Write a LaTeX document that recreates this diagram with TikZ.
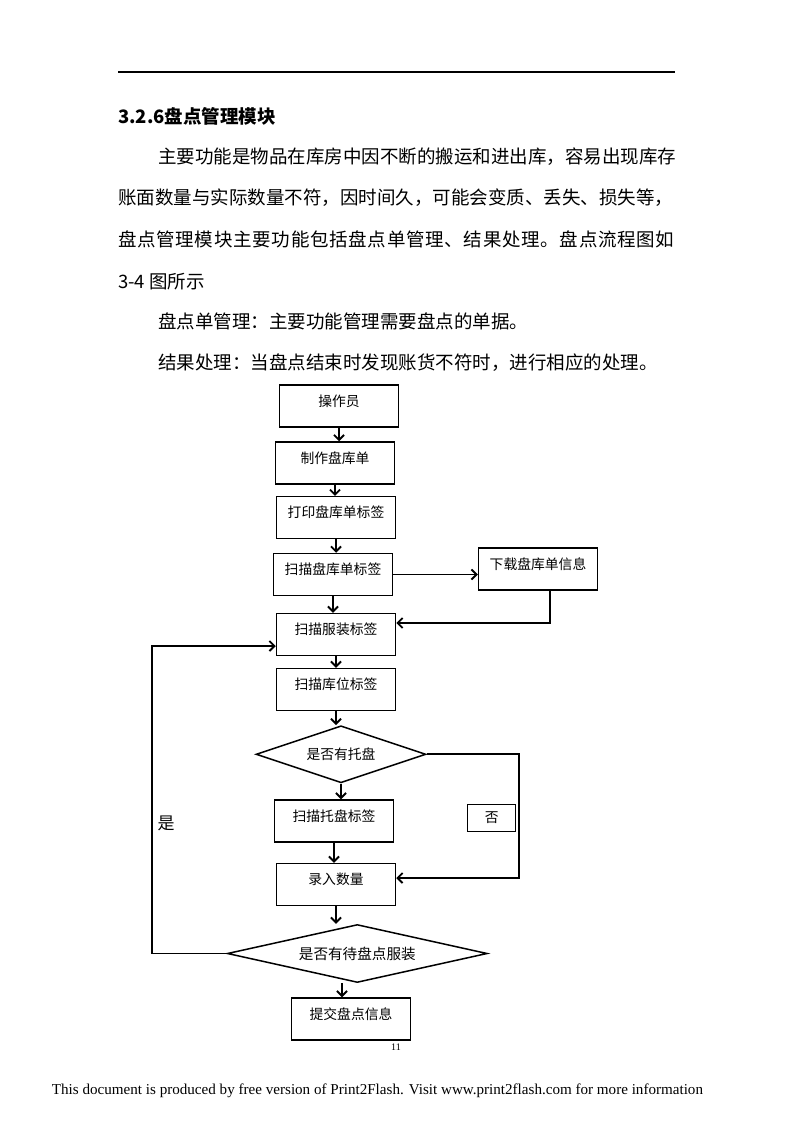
\documentclass[tikz,border=0pt]{standalone}
\usepackage{fontspec}
\newfontfamily\cjk{Noto Sans CJK SC}
\newfontfamily\footfont{Liberation Serif}
\usetikzlibrary{arrows.meta,shapes.geometric,positioning}

\begin{document}
\begin{tikzpicture}[x=1pt,y=-1pt,
    box/.style={draw, line width=1.5pt, minimum width=119pt, minimum height=42pt,
        inner sep=0pt, text height=8pt, text depth=8pt,
        font=\cjk\fontsize{13.8}{15}\selectfont},
    choice/.style={draw, diamond, line width=1.5pt, inner sep=0pt,
        font=\cjk\fontsize{13.8}{15}\selectfont},
    arr/.style={-{Straight Barb[length=5pt,width=10pt]}, line width=1.9pt},
    body/.style={anchor=base west, inner sep=0pt, font=\cjk\fontsize{18.5}{20}\selectfont}]

    \useasboundingbox (0,0) rectangle (794,1123);

    % Draw page head.
    \draw[line width=1.8pt] (118,72) -- (675,72);
    \node[body, font=\cjk\bfseries\fontsize{18.5}{20}\selectfont] (title) at (118,124) {3.2.6盘点管理模块};

    % Draw body text.
    \node[body] (l1) at (158,164) {主要功能是物品在库房中因不断的搬运和进出库，容易出现库存};
    \node[body] (l2) at (118,205) {账面数量与实际数量不符，因时间久，可能会变质、丢失、损失等，};
    \node[body] (l3) at (118,247) {\addfontfeature{LetterSpace=3.8}盘点管理模块主要功能包括盘点单管理、结果处理。盘点流程图如};
    \node[body] (l4) at (118,288) {3-4 图所示};
    \node[body] (l5) at (158,328) {盘点单管理：主要功能管理需要盘点的单据。};
    \node[body] (l6) at (158,369) {结果处理：当盘点结束时发现账货不符时，进行相应的处理。};

    % Draw flow boxes.
    \node[box] (op) at (339,406) {操作员};
    \node[box] (make) at (335,463) {制作盘库单};
    \node[box] (print) at (336,517.7) {打印盘库单标签};
    \node[box] (scan) at (333,574.5) {扫描盘库单标签};
    \node[box] (down) at (538,569) {下载盘库单信息};
    \node[box] (cloth) at (336,634.5) {扫描服装标签};
    \node[box] (loc) at (336,689.5) {扫描库位标签};
    \node[choice, aspect=2.98, minimum width=170pt, minimum height=57pt] (haspallet) at (341,754.3) {是否有托盘};
    \node[box] (pallet) at (334,821) {扫描托盘标签};
    \node[box] (qty) at (336,884.5) {录入数量};
    \node[choice, aspect=4.48, minimum width=260pt, minimum height=58pt,
        font=\cjk\fontsize{14.6}{16}\selectfont] (hasmore) at (357.3,953.5) {是否有待盘点服装};
    \node[box] (submit) at (351,1019) {提交盘点信息};

    % Draw branch labels.
    \node[draw, line width=1.5pt, minimum width=48pt, minimum height=27pt, inner sep=0pt,
        font=\cjk\fontsize{13.8}{15}\selectfont] (no) at (491.7,818) {否};
    \node[font=\cjk\fontsize{17}{18}\selectfont] (yes) at (166,823) {是};

    % Draw main arrows.
    \foreach \a/\b in {op/make,make/print,print/scan,scan/cloth,cloth/loc,loc/haspallet,haspallet/pallet,pallet/qty,qty/hasmore}
        \draw[arr] (\a.south) -- (\a.south |- \b.north);
    \draw[arr] ([xshift=-9pt]submit.north |- hasmore.south) -- ([xshift=-9pt]submit.north);

    % Draw side arrows.
    \draw[arr] (scan.east) -- (scan.east -| down.west);
    \draw[arr] ([xshift=12pt]down.south) |- ([yshift=11.5pt]cloth.east);
    \draw[arr] (haspallet.east) -- ++(92,0) |- ([yshift=6.5pt]qty.east);
    \draw[arr] (hasmore.west) -- ++(-75,0) |- ([yshift=-11.5pt]cloth.west);

    % Draw page foot.
    \node[font=\footfont\fontsize{10}{11}\selectfont] (pg) at (396,1047) {11};
    \node[font=\footfont\fontsize{15.1}{17}\selectfont] (foot) at (377.5,1091)
        {This document is produced by free version of Print2Flash. Visit www.print2flash.com for more information};

\end{tikzpicture}
\end{document}
